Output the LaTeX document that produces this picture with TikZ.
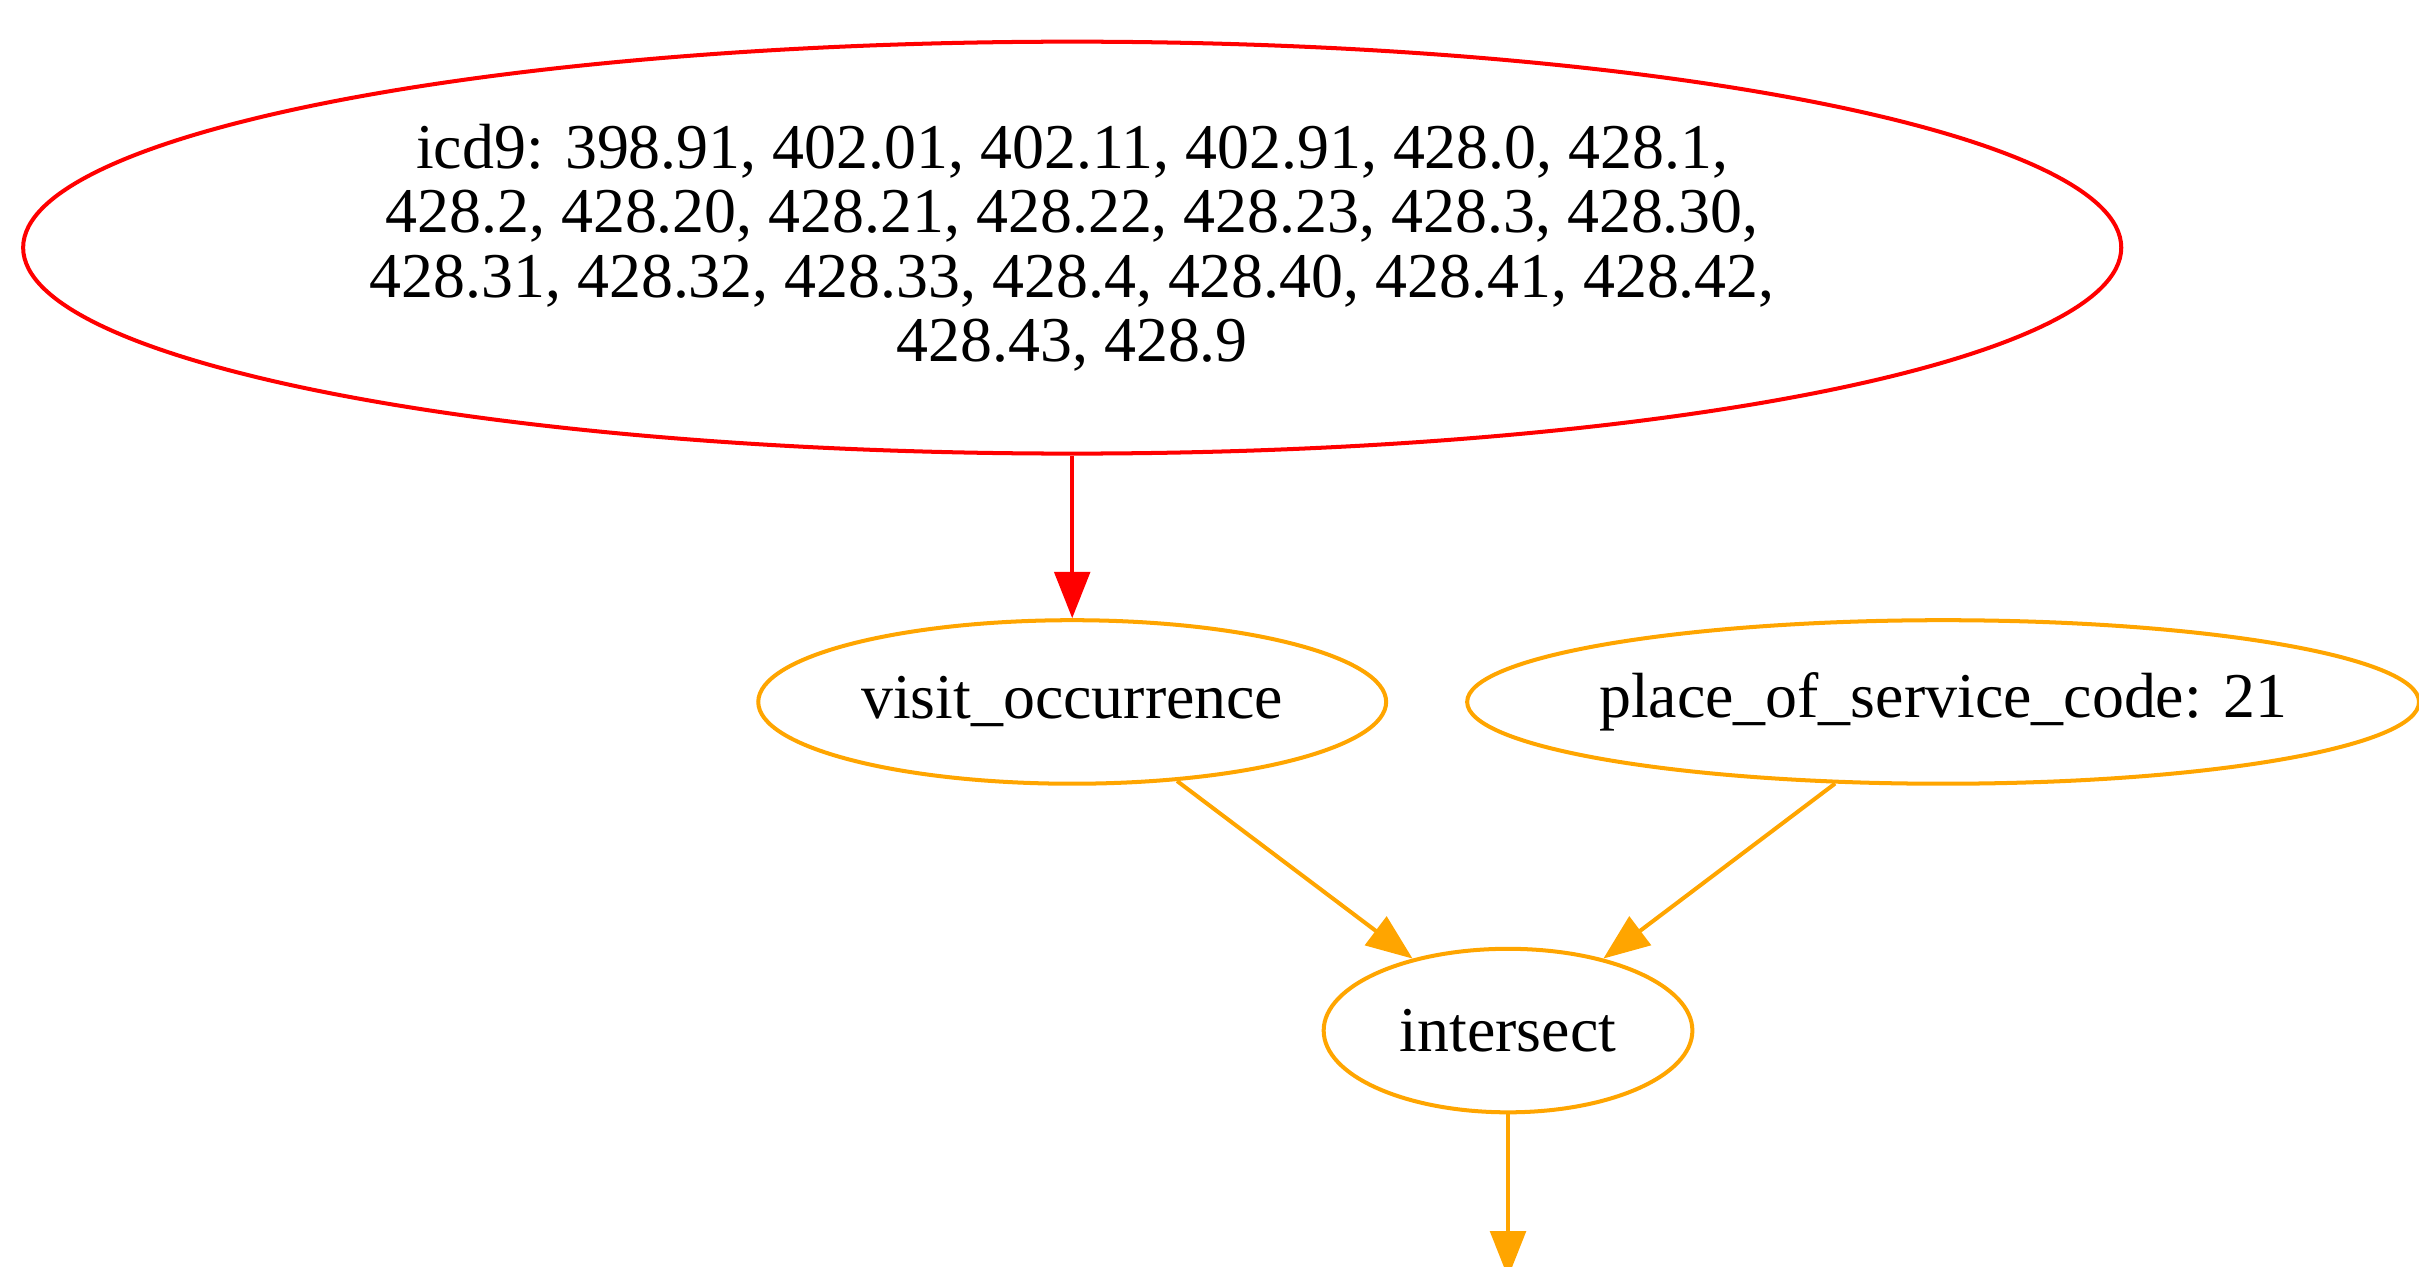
\documentclass[tikz,border=0pt]{standalone}
\usepackage{fontspec}
\setmainfont{Liberation Serif}
\usetikzlibrary{shapes.geometric,arrows.meta}
\definecolor{gvred}{HTML}{FF0000}
\definecolor{gvorange}{HTML}{FFA500}
\tikzset{
  gvnode/.style={ellipse, draw, line width=1.3pt, inner sep=0pt, align=center,
    font=\fontsize{20.7pt}{20.85pt}\selectfont},
  gvedge/.style={line width=1.3pt, -{Triangle[length=15pt,width=11.5pt]}},
}
\begin{document}
\begin{tikzpicture}[x=0.5pt,y=-0.5pt]
\useasboundingbox (0,0) rectangle (1568,821);
\clip (0,0) rectangle (1568,821);
\node[gvnode, gvred, text=black, minimum width=680pt, minimum height=133.5pt] (icd) at (695,160.5)
  {icd9: 398.91, 402.01, 402.11, 402.91, 428.0, 428.1,\\
   428.2, 428.20, 428.21, 428.22, 428.23, 428.3, 428.30,\\
   428.31, 428.32, 428.33, 428.4, 428.40, 428.41, 428.42,\\
   428.43, 428.9};
\node[gvnode, gvorange, text=black, minimum width=203.5pt, minimum height=53pt] (visit) at (695,455) {visit\_occurrence};
\node[gvnode, gvorange, text=black, inner xsep=-6pt, minimum width=308.5pt, minimum height=53pt] (place) at (1259.5,455) {place\_of\_service\_code: 21};
\node[gvnode, gvorange, text=black, minimum width=119.5pt, minimum height=53pt] (inter) at (977.5,668) {intersect};
\coordinate (out) at (977.5,828);
\draw[gvedge, gvred] (icd) -- (visit);
\draw[gvedge, gvorange] (visit) -- (inter);
\draw[gvedge, gvorange] (place) -- (inter);
\draw[gvedge, gvorange] (inter) -- (out);
\end{tikzpicture}
\end{document}
